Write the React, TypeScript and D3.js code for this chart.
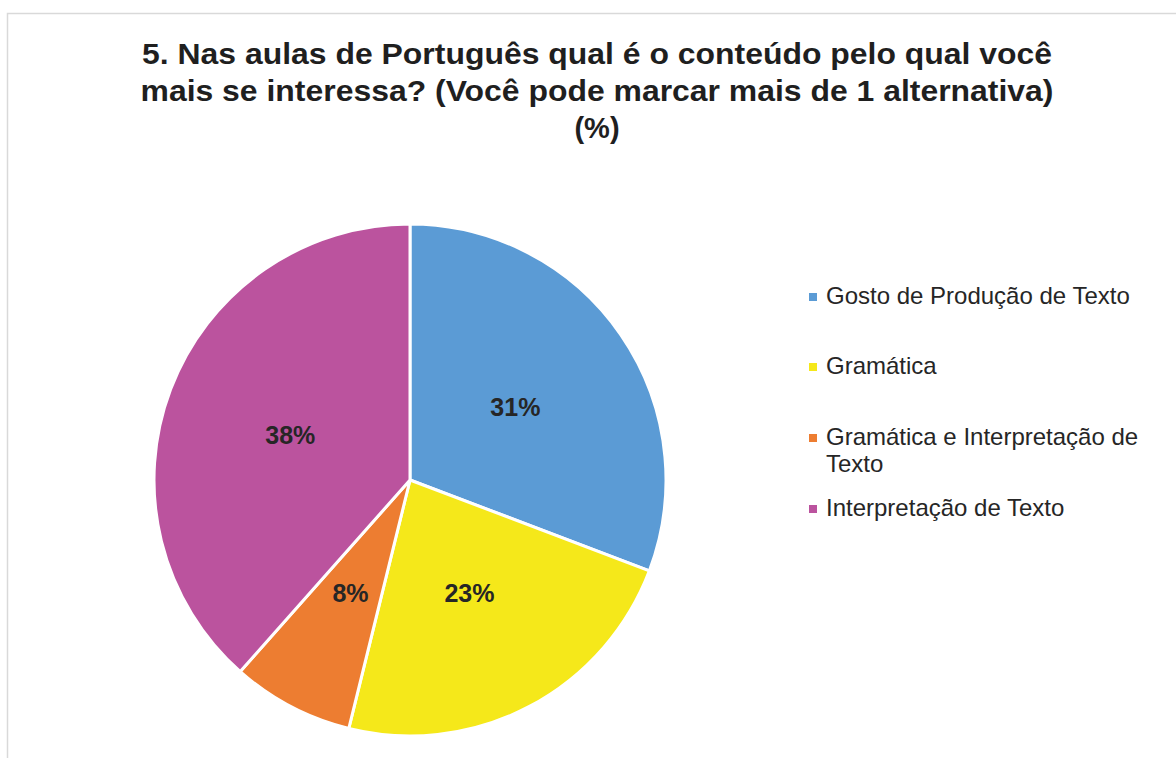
import React, { useEffect, useRef } from 'react';
import * as d3 from 'd3';

// survey answers (share of respondents)
const categories = [
  'Gosto de Produção de Texto',
  'Gramática',
  'Gramática e Interpretação de Texto',
  'Interpretação de Texto',
];
const values = [30.8, 23.1, 7.7, 38.5];
const valueLabels = ['31%', '23%', '8%', '38%'];
const colors = ['#5b9bd5', '#f5e81a', '#ed7d31', '#bb539e'];
const titleLines = [
  '5. Nas aulas de Português qual é o conteúdo pelo qual você',
  'mais se interessa? (Você pode marcar mais de 1 alternativa)',
  '(%)',
];
// legend text, wrapped as in the original
const legendLines = [
  ['Gosto de Produção de Texto'],
  ['Gramática'],
  ['Gramática e Interpretação de', 'Texto'],
  ['Interpretação de Texto'],
];

const W = 1176;
const H = 758;

export default function App() {
  const svgRef = useRef<SVGSVGElement>(null);

  useEffect(() => {
    if (!svgRef.current) return;
    const svg = d3.select(svgRef.current);
    svg.selectAll('*').remove();

    svg.append('rect')
      .attr('x', 0).attr('y', 0).attr('width', W).attr('height', H)
      .attr('fill', '#ffffff');

    // chart area border (runs off the right and bottom edges)
    svg.append('rect')
      .attr('x', 7.5).attr('y', 13.5)
      .attr('width', W + 50).attr('height', H + 50)
      .attr('fill', 'none')
      .attr('stroke', '#d9d9d9')
      .attr('stroke-width', 1.5);

    // Title - the original is set wider than plain Arial, so stretch lines 1-2
    const titleWidths = [910, 913, 0];
    titleLines.forEach((t, i) => {
      const txt = svg.append('text')
        .attr('x', 597)
        .attr('y', 64 + i * 37)
        .attr('text-anchor', 'middle')
        .style('font-family', '"Liberation Sans", Arial, sans-serif')
        .style('font-weight', 'bold')
        .style('font-size', '29px')
        .style('fill', '#1f1f1f')
        .text(t);
      if (titleWidths[i]) {
        txt.attr('textLength', titleWidths[i]).attr('lengthAdjust', 'spacingAndGlyphs');
      }
    });

    // Pie
    const cx = 410;
    const cy = 480;
    const radius = 256;

    const pie = d3.pie<number>().sort(null).value(d => d);
    const arcs = pie(values);
    const arc = d3.arc<d3.PieArcDatum<number>>()
      .innerRadius(0)
      .outerRadius(radius);

    const g = svg.append('g').attr('transform', `translate(${cx},${cy})`);

    g.selectAll('path.slice')
      .data(arcs)
      .enter()
      .append('path')
      .attr('class', 'slice')
      .attr('d', arc)
      .attr('fill', (d, i) => colors[i])
      .attr('stroke', '#ffffff')
      .attr('stroke-width', 3)
      .attr('stroke-linejoin', 'round');

    g.selectAll('text.lbl')
      .data(arcs)
      .enter()
      .append('text')
      .attr('class', 'lbl')
      .attr('transform', d => `translate(${arc.centroid(d)})`)
      .attr('text-anchor', 'middle')
      .attr('dy', '0.36em')
      .style('font-family', '"Liberation Sans", Arial, sans-serif')
      .style('font-weight', 'bold')
      .style('font-size', '25px')
      .style('fill', '#262626')
      .text((d, i) => valueLabels[i]);

    // Legend
    const legendY = [304, 374, 445, 516];
    const legend = svg.append('g');
    categories.forEach((c, i) => {
      legend.append('rect')
        .attr('x', 809)
        .attr('y', legendY[i] - 11)
        .attr('width', 8)
        .attr('height', 8)
        .attr('fill', colors[i]);
      const t = legend.append('text')
        .style('font-family', '"Liberation Sans", Arial, sans-serif')
        .style('font-size', '24px')
        .style('fill', '#262626');
      legendLines[i].forEach((line, j) => {
        t.append('tspan')
          .attr('x', 826)
          .attr('y', legendY[i] + j * 27)
          .text(line);
      });
    });
  }, []);

  return (
    <div style={{ position: 'absolute', left: 0, top: 0 }}>
      <svg ref={svgRef} width={W} height={H} style={{ display: 'block' }}></svg>
    </div>
  );
}
